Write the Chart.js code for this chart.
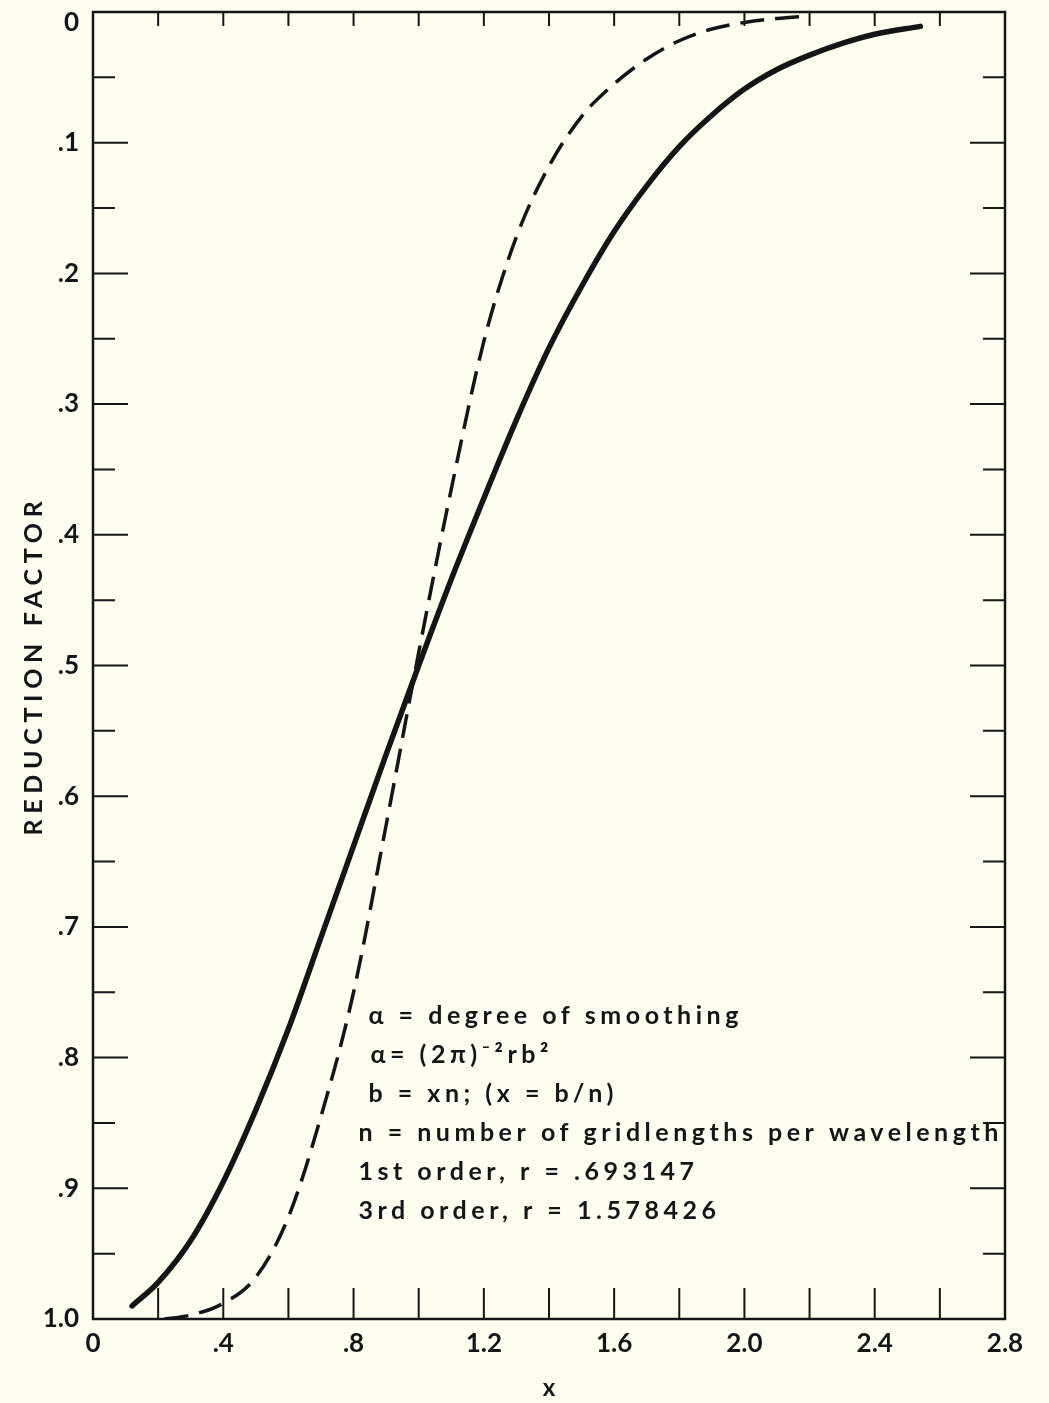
<!DOCTYPE html>
<html>
<head>
<meta charset="utf-8">
<script src="https://cdn.jsdelivr.net/npm/chart.js@4.4.1/dist/chart.umd.min.js"></script>
<style>
  body { margin: 0; background: #fdfdf0; }
  #wrap { width: 1049px; height: 1403px; }
</style>
</head>
<body>
<div id="wrap"><canvas id="chart" width="1049" height="1403"></canvas></div>
<script>
// values (x, reduction factor)
const firstOrderX = [0.12, 0.2, 0.3, 0.4, 0.5, 0.6, 0.7, 0.8, 0.9, 1.0, 1.1, 1.2, 1.3, 1.4, 1.5, 1.6, 1.7, 1.8, 1.9, 2.0, 2.1, 2.2, 2.3, 2.4, 2.54];
const firstOrderY = [0.99, 0.972, 0.94, 0.895, 0.84, 0.778, 0.708, 0.638, 0.568, 0.5, 0.434, 0.372, 0.312, 0.257, 0.21, 0.168, 0.133, 0.103, 0.079, 0.059, 0.044, 0.033, 0.024, 0.017, 0.011];

const thirdOrderX = [0.22, 0.3, 0.4, 0.5, 0.6, 0.7, 0.8, 0.9, 1.0, 1.1, 1.2, 1.3, 1.4, 1.5, 1.6, 1.7, 1.8, 1.9, 2.0, 2.1, 2.2];
const thirdOrderY = [1.0, 0.997, 0.988, 0.968, 0.922, 0.845, 0.75, 0.622, 0.49, 0.365, 0.252, 0.172, 0.118, 0.08, 0.055, 0.036, 0.022, 0.013, 0.008, 0.005, 0.003];

const xMin = 0, xMax = 2.8, xStep = 0.2, xLabelStep = 0.4;
const yMin = 0, yMax = 1.0, yStep = 0.05, yLabelStep = 0.1;

const yTitle = 'REDUCTION FACTOR';
const xTitle = 'x';
const notes = [
  'α = degree of smoothing',
  'α= (2π)⁻²rb²',
  'b = xn; (x = b/n)',
  'n = number of gridlengths per wavelength',
  '1st order, r = .693147',
  '3rd order, r = 1.578426'
];

const ink = '#151515';
const font = 'Lato, "DejaVu Sans", sans-serif';

function toPoints(xs, ys) {
  return xs.map((x, i) => ({ x: x, y: ys[i] }));
}
function onStep(v, step) {
  return Math.abs(v / step - Math.round(v / step)) < 1e-6;
}
function fmt(v) {
  if (Math.abs(v) < 1e-9) return '0';
  if (v < 1 - 1e-9) return '.' + Math.round(v * 10);
  return v.toFixed(1);
}

// frame, inward tick marks, y labels, notes and the rotated y title
const decorations = {
  id: 'decorations',
  beforeDraw(chart) {
    const ctx = chart.ctx;
    ctx.save();
    ctx.fillStyle = '#fdfdf0';
    ctx.fillRect(0, 0, chart.width, chart.height);
    ctx.restore();
  },
  afterDraw(chart) {
    const ctx = chart.ctx;
    const a = chart.chartArea;
    const xs = chart.scales.x, ys = chart.scales.y;
    ctx.save();
    ctx.strokeStyle = ink;
    ctx.lineWidth = 2;
    ctx.beginPath();
    xs.ticks.forEach(t => {
      if (t.value <= xMin + 1e-9 || t.value >= xMax - 1e-9) return;
      const px = xs.getPixelForValue(t.value);
      ctx.moveTo(px, a.bottom); ctx.lineTo(px, a.bottom - 31);
      ctx.moveTo(px, a.top); ctx.lineTo(px, a.top + 14);
    });
    ys.ticks.forEach(t => {
      if (t.value <= yMin + 1e-9 || t.value >= yMax - 1e-9) return;
      const py = ys.getPixelForValue(t.value);
      const len = onStep(t.value, yLabelStep) ? 35 : 22;
      ctx.moveTo(a.left, py); ctx.lineTo(a.left + len, py);
      ctx.moveTo(a.right, py); ctx.lineTo(a.right - len, py);
    });
    ctx.stroke();
    ctx.lineWidth = 2.5;
    ctx.strokeRect(a.left, a.top, a.right - a.left, a.bottom - a.top);

    // y tick labels (the top one sits a little lower, as in the original)
    ctx.fillStyle = ink;
    ctx.font = 'bold 26px ' + font;
    ctx.textAlign = 'right';
    ctx.textBaseline = 'middle';
    ys.ticks.forEach(t => {
      if (!onStep(t.value, yLabelStep)) return;
      const py = Math.max(ys.getPixelForValue(t.value), a.top + 11);
      ctx.fillText(fmt(t.value), a.left - 14, py);
    });

    // notes block
    ctx.textAlign = 'left';
    ctx.font = 'bold 25px ' + font;
    const left = xs.getPixelForValue(0.815);
    const room = a.right - left - 2;
    const w = ctx.measureText(notes[3]).width;
    const spacing = Math.max(0, (room - w) / notes[3].length);
    ctx.letterSpacing = spacing.toFixed(2) + 'px';
    const top = ys.getPixelForValue(0.768);
    const offs = [10, 12, 10, 0, 0, 0];
    notes.forEach((s, i) => {
      ctx.fillText(s, left + offs[i], top + i * 39);
    });

    // y title
    ctx.font = 'bold 25px ' + font;
    ctx.letterSpacing = '0px';
    const tw = ctx.measureText(yTitle).width;
    ctx.letterSpacing = Math.max(0, (340 - tw) / yTitle.length).toFixed(2) + 'px';
    ctx.textAlign = 'center';
    ctx.translate(34, (a.top + a.bottom) / 2);
    ctx.rotate(-Math.PI / 2);
    ctx.fillText(yTitle, 0, 0);
    ctx.restore();
  }
};

new Chart(document.getElementById('chart'), {
  type: 'scatter',
  data: {
    datasets: [{
      label: '1st order',
      data: toPoints(firstOrderX, firstOrderY),
      showLine: true,
      borderColor: ink,
      borderWidth: 5.5,
      borderCapStyle: 'round',
      pointRadius: 0,
      cubicInterpolationMode: 'monotone'
    }, {
      label: '3rd order',
      data: toPoints(thirdOrderX, thirdOrderY),
      showLine: true,
      borderColor: ink,
      borderWidth: 3.5,
      borderDash: [24, 11],
      pointRadius: 0,
      cubicInterpolationMode: 'monotone'
    }]
  },
  options: {
    responsive: false,
    animation: false,
    layout: { padding: { top: 12, right: 44, left: 0, bottom: 0 } },
    plugins: {
      legend: { display: false },
      tooltip: { enabled: false }
    },
    scales: {
      x: {
        type: 'linear',
        min: xMin,
        max: xMax,
        grid: { display: false, drawTicks: false },
        border: { display: false },
        ticks: {
          stepSize: xStep,
          autoSkip: false,
          maxRotation: 0,
          padding: 9,
          color: ink,
          font: { family: font, size: 26, weight: 'bold' },
          callback: v => onStep(v, xLabelStep) ? fmt(v) : ''
        },
        title: {
          display: true,
          text: xTitle,
          color: ink,
          padding: 0,
          font: { family: font, size: 24, weight: 'bold' }
        },
        afterFit: s => { s.height = 84; s.paddingLeft = 0; s.paddingRight = 0; }
      },
      y: {
        type: 'linear',
        reverse: true,
        min: yMin,
        max: yMax,
        grid: { display: false, drawTicks: false },
        border: { display: false },
        ticks: {
          stepSize: yStep,
          autoSkip: false,
          display: false
        },
        afterFit: s => { s.width = 93; s.paddingTop = 0; s.paddingBottom = 0; }
      }
    }
  },
  plugins: [decorations]
});
</script>
</body>
</html>
